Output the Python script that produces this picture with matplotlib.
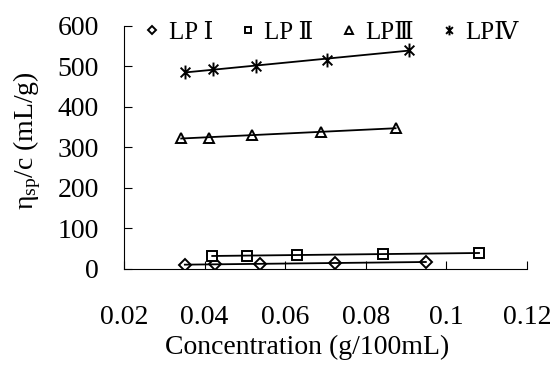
import numpy as np
from matplotlib import pyplot as plt
from matplotlib.path import Path

# Data
conc_1 = [0.0351, 0.0426, 0.0537, 0.0723, 0.0949]
visc_1 = [10, 12, 13, 15, 17]
conc_2 = [0.0419, 0.0505, 0.0629, 0.0843, 0.1081]
visc_2 = [33, 32, 35, 36, 40]
conc_3 = [0.0342, 0.0412, 0.0517, 0.0688, 0.0874]
visc_3 = [323, 323, 332, 339, 347]
conc_4 = [0.0352, 0.0420, 0.0528, 0.0704, 0.0908]
visc_4 = [486, 493, 501, 517, 541]
labels = ['LP \u2160', 'LP \u2161', 'LP\u2162', 'LP\u2163']

plt.rcParams['font.family'] = ['Liberation Serif', 'DejaVu Serif', 'Noto Sans CJK SC']
plt.rcParams['mathtext.fontset'] = 'custom'
plt.rcParams['mathtext.rm'] = 'Liberation Serif'
plt.rcParams['mathtext.it'] = 'Liberation Serif'

# asterisk marker like Excel's star (vertical bar + X)
star = Path([(0, -1), (0, 1), (-0.7, -0.7), (0.7, 0.7), (-0.7, 0.7), (0.7, -0.7)],
            [Path.MOVETO, Path.LINETO] * 3)

fig = plt.figure(figsize=(5.55, 3.76), dpi=100)
ax = fig.add_axes([0.2234, 0.2846, 0.7261, 0.6464])

series = [(conc_1, visc_1, 'D', 6.5), (conc_2, visc_2, 's', 7),
          (conc_3, visc_3, '^', 7.5), (conc_4, visc_4, star, 10)]

for (xs, ys, mk, ms), lab in zip(series, labels):
    xs = np.array(xs)
    ax.plot(xs, ys, linestyle='none', marker=mk, markersize=ms, markerfacecolor='white',
            markeredgecolor='black', markeredgewidth=1.4, label=lab)
    k, b = np.polyfit(xs, ys, 1)
    xl = np.array([xs.min(), xs.max()])
    ax.plot(xl, k * xl + b, color='black', linewidth=1.3)

ax.set_xlim(0.02, 0.12)
ax.set_ylim(0, 600)
ax.set_xticks([0.02, 0.04, 0.06, 0.08, 0.1, 0.12])
ax.set_xticklabels(['0.02', '0.04', '0.06', '0.08', '0.1', '0.12'])
ax.set_yticks(range(0, 601, 100))

ax.spines['top'].set_visible(False)
ax.spines['right'].set_visible(False)
ax.tick_params(axis='both', direction='in', length=6, labelsize=20, color='black')
ax.tick_params(axis='x', pad=26)
ax.tick_params(axis='y', pad=18)

ax.set_xlabel('Concentration (g/100mL)', fontsize=20)
ax.set_ylabel(r'$\eta_{\mathrm{sp}}$/c (mL/g)', fontsize=20)
ax.xaxis.set_label_coords(0.455, -0.27)
ax.yaxis.set_label_coords(-0.2, 0.527)

leg = ax.legend(loc='upper center', bbox_to_anchor=(0.515, 1.11), ncol=4, frameon=False,
                fontsize=18, handlelength=0.6, handletextpad=0.35, columnspacing=1.1,
                markerscale=0.7)

plt.savefig('out.png', dpi=100)
